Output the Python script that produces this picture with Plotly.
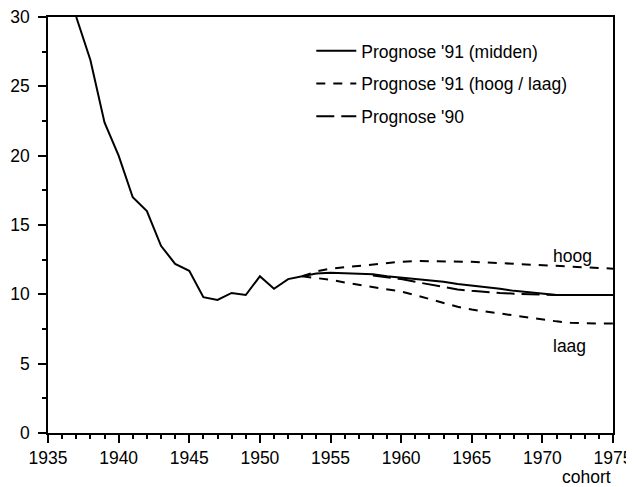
import plotly.graph_objects as go

# observed series (cohort -> value)
obs_years = list(range(1937, 1954))
obs_vals = [30.0, 26.9, 22.4, 20.0, 17.0, 16.0, 13.5, 12.2, 11.7, 9.8, 9.6, 10.1, 9.95, 11.3, 10.4, 11.1, 11.3]

proj_years = list(range(1953, 1976))
midden = [11.3, 11.5, 11.55, 11.5, 11.45, 11.45, 11.3, 11.2, 11.15, 11.0, 10.9, 10.75, 10.65,
          10.5, 10.4, 10.25, 10.15, 10.0, 9.95, 9.95, 9.95, 9.95, 9.95]
hoog = [11.3, 11.65, 11.85, 11.95, 12.05, 12.15, 12.3, 12.35, 12.4, 12.4, 12.4, 12.4, 12.35,
        12.3, 12.25, 12.15, 12.1, 12.05, 12.0, 11.95, 11.9, 11.85, 11.85]
laag = [11.3, 11.2, 11.05, 10.85, 10.7, 10.55, 10.4, 10.2, 9.95, 9.65, 9.35, 9.1, 8.9,
        8.75, 8.6, 8.45, 8.3, 8.15, 8.05, 7.95, 7.9, 7.9, 7.9]
p90_years = list(range(1958, 1976))
p90 = [11.35, 11.25, 11.1, 10.9, 10.7, 10.5, 10.35, 10.25, 10.15, 10.1, 10.05, 10.0, 9.97,
       9.95, 9.95, 9.95, 9.95, 9.95]

x_ticks = [1935, 1940, 1945, 1950, 1955, 1960, 1965, 1970, 1975]
y_ticks = [0, 5, 10, 15, 20, 25, 30]

fig = go.Figure()
lw = 2
fig.add_trace(go.Scatter(x=obs_years + proj_years, y=obs_vals + midden, mode="lines",
                         line=dict(color="black", width=lw), name="Prognose '91 (midden)",
                         legendgroup="a"))
fig.add_trace(go.Scatter(x=proj_years, y=hoog, mode="lines",
                         line=dict(color="black", width=lw, dash="9px,8px"),
                         name="Prognose '91 (hoog / laag)", legendgroup="b"))
fig.add_trace(go.Scatter(x=proj_years, y=laag, mode="lines",
                         line=dict(color="black", width=lw, dash="9px,8px"),
                         name="Prognose '91 (hoog / laag)", legendgroup="b", showlegend=False))
fig.add_trace(go.Scatter(x=p90_years, y=p90, mode="lines",
                         line=dict(color="black", width=lw, dash="18px,7px"),
                         name="Prognose '90", legendgroup="c"))

font = "Liberation Sans, Arial, sans-serif"
fs = 17.5
fig.add_annotation(x=1972.1, y=12.8, text="hoog", showarrow=False,
                   font=dict(size=fs, color="black", family=font))
fig.add_annotation(x=1971.9, y=6.3, text="laag", showarrow=False,
                   font=dict(size=fs, color="black", family=font))
fig.add_annotation(x=1975, y=0, xref="x", yref="y", text="cohort", showarrow=False,
                   yshift=-44, xshift=-27, font=dict(size=fs, color="black", family=font))

# page body has an 8px margin, so the figure is sized to fill the rest of the window
fig.update_layout(
    width=626, height=479,
    margin=dict(l=40, r=21, t=9, b=54),
    paper_bgcolor="white", plot_bgcolor="white",
    font=dict(family=font, size=fs, color="black"),
    showlegend=True,
    legend=dict(x=0.466, y=0.962, xanchor="left", yanchor="top", bgcolor="rgba(0,0,0,0)",
                traceorder="grouped", tracegroupgap=7, font=dict(size=fs),
                itemwidth=40),
)
fig.update_xaxes(range=[1935, 1975], tickvals=x_ticks, ticks="outside", ticklen=8,
                 tickwidth=1.5, tickcolor="black", showline=True, linecolor="black",
                 linewidth=1.5, mirror=True, showgrid=False, zeroline=False, automargin=False,
                 ticklabeloverflow="allow",
                 minor=dict(dtick=1, ticks="outside", ticklen=4, tickcolor="black", showgrid=False),
                 tickfont=dict(size=fs))
fig.update_yaxes(range=[0, 30], tickvals=y_ticks, ticks="outside", ticklen=8,
                 tickwidth=1.5, tickcolor="black", showline=True, linecolor="black",
                 linewidth=1.5, mirror=True, showgrid=False, zeroline=False, automargin=False,
                 ticklabelstandoff=5, ticklabeloverflow="allow",
                 minor=dict(dtick=2.5, ticks="outside", ticklen=4, tickcolor="black", showgrid=False),
                 tickfont=dict(size=fs))

fig.write_html("out.html")
